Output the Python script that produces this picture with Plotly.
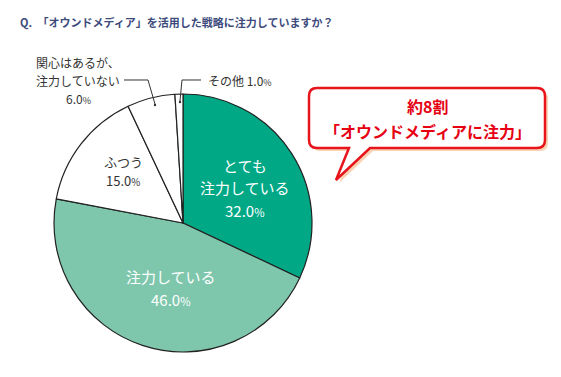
import plotly.graph_objects as go

W, H = 561, 377

labels = ["とても注力している", "注力している", "ふつう", "関心はあるが、注力していない", "その他"]
values = [32.0, 46.0, 15.0, 6.0, 1.0]
colors = ["#00a886", "#7ec7ad", "#ffffff", "#ffffff", "#ffffff"]
title_text = "Q.　「オウンドメディア」を活用した戦略に注力していますか？"
callout_lines = ["約8割", "「オウンドメディアに注力」"]

FONT = "Noto Sans CJK JP"


def px(x):
    return x / W


def py(y):
    return 1 - y / H


fig = go.Figure()
fig.add_trace(go.Pie(
    labels=labels, values=values, sort=False, direction="clockwise", rotation=0,
    marker=dict(colors=colors, line=dict(color="#222222", width=1.2)),
    textinfo="none", hoverinfo="label+percent", showlegend=False,
    domain=dict(x=[px(46), px(304)], y=[py(344), py(86)]),
))

ann = []


def add_text(x, y, text, size, color, bold=False, anchor="center"):
    ann.append(dict(x=px(x), y=py(y), xref="paper", yref="paper", text=("<b>%s</b>" % text) if bold else text,
                    showarrow=False, xanchor=anchor, yanchor="middle",
                    font=dict(family=FONT, size=size, color=color)))


def pct(v):
    return "%.1f<span style='font-size:75%%'>%%</span>" % v


# title
add_text(10, 14, title_text, 11, "#3c4a7c", bold=True, anchor="left")

# inside labels
add_text(237, 157, "とても", 15, "white")
add_text(237, 179, "注力している", 15, "white")
add_text(237, 202, pct(values[0]), 15, "white")
add_text(163, 268, "注力している", 15, "white")
add_text(163, 291, pct(values[1]), 15, "white")
add_text(115, 153, labels[2], 13, "#333333")
add_text(115, 172, pct(values[2]), 13, "#333333")

# outside labels
add_text(70, 54, "関心はあるが、", 12, "#333333")
add_text(70, 72, "注力していない", 12, "#333333")
add_text(70, 90, pct(values[3]), 12, "#333333")
add_text(198, 72, "その他 " + pct(values[4]), 12, "#333333", anchor="left")

# callout text
add_text(419, 98, callout_lines[0], 16, "#e60012", bold=True)
add_text(419, 123, callout_lines[1], 16, "#e60012", bold=True)

shapes = []


def seg(points, color="#333333", width=1):
    d = "M " + " L ".join("%f,%f" % (px(a), py(b)) for a, b in points)
    shapes.append(dict(type="path", path=d, xref="paper", yref="paper",
                       line=dict(color=color, width=width)))


seg([(116, 72), (140, 72), (147, 96)])
seg([(193, 72), (174, 72), (172, 93)])
for cx, cy in [(147, 97), (172, 94)]:
    shapes.append(dict(type="circle", xref="paper", yref="paper",
                       x0=px(cx - 1.2), x1=px(cx + 1.2), y0=py(cy + 1.2), y1=py(cy - 1.2),
                       fillcolor="#333333", line=dict(width=0)))


def callout(dx, dy):
    L, R, T, B, r = 301 + dx, 537 + dx, 80 + dy, 140 + dy, 8
    pts = []
    P = lambda a, b: "%f,%f" % (px(a), py(b))
    d = ("M " + P(L + r, T) + " L " + P(R - r, T) + " Q " + P(R, T) + " " + P(R, T + r) +
         " L " + P(R, B - r) + " Q " + P(R, B) + " " + P(R - r, B) +
         " L " + P(362 + dx, B) + " L " + P(328 + dx, 172 + dy) + " L " + P(341 + dx, B) +
         " L " + P(L + r, B) + " Q " + P(L, B) + " " + P(L, B - r) +
         " L " + P(L, T + r) + " Q " + P(L, T) + " " + P(L + r, T) + " Z")
    return d


shapes.append(dict(type="path", path=callout(3, 3), xref="paper", yref="paper",
                   fillcolor="rgba(240,160,90,0.45)", line=dict(width=0), layer="below"))
shapes.append(dict(type="path", path=callout(0, 0), xref="paper", yref="paper",
                   fillcolor="white", line=dict(color="#e8141c", width=2.5), layer="below"))

fig.update_layout(width=W, height=H, margin=dict(l=0, r=0, t=0, b=0),
                  paper_bgcolor="white", plot_bgcolor="white",
                  annotations=ann, shapes=shapes)
fig.write_html("out.html")
